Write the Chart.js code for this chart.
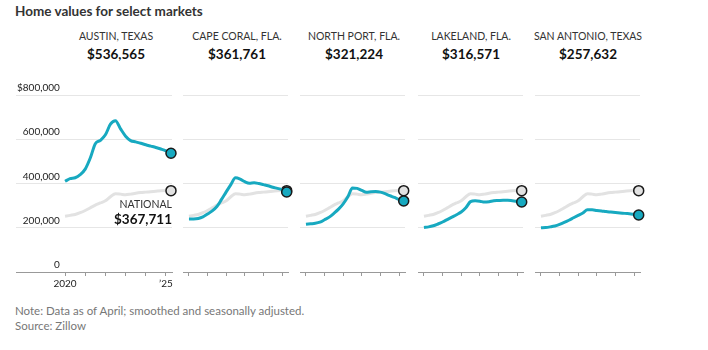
<!DOCTYPE html>
<html>
<head>
<meta charset="utf-8">
<script src="https://cdn.jsdelivr.net/npm/chart.js@4.4.0/dist/chart.umd.min.js"></script>
<style>
  body { margin: 0; width: 708px; height: 350px; background: #fff; position: relative; overflow: hidden;
         font-family: Lato, 'Noto Sans', sans-serif; color: #222; }
  .txt { position: absolute; white-space: nowrap; line-height: 1; }
  .title { left: 15px; top: 5px; font-size: 13.5px; font-weight: bold; color: #333; }
  .city { font-family: 'Liberation Sans Narrow', Lato, sans-serif; font-size: 10.5px; color: #333; transform: translate(-50%, -50%); }
  .value { font-size: 13.5px; font-weight: bold; color: #111; transform: translate(-50%, -50%); }
  .natl { font-family: 'Liberation Sans Narrow', Lato, sans-serif; font-size: 10.5px; color: #333; transform: translate(-100%, -50%); }
  .natlv { font-size: 13.5px; font-weight: bold; color: #111; transform: translate(-100%, -50%); }
  .note { left: 15px; font-size: 11.5px; color: #777; transform: translateY(-50%); }
  canvas { position: absolute; }
</style>
</head>
<body>
<div class="txt title">Home values for select markets</div>
<div id="wrap"></div>
<div class="txt note" style="top:311px">Note: Data as of April; smoothed and seasonally adjusted.</div>
<div class="txt note" style="top:326px">Source: Zillow</div>
<script>
const QUARTERS = ['2020-01', '2020-04', '2020-07', '2020-10', '2021-01', '2021-04', '2021-07', '2021-10',
  '2022-01', '2022-04', '2022-07', '2022-10', '2023-01', '2023-04', '2023-07', '2023-10',
  '2024-01', '2024-04', '2024-07', '2024-10', '2025-01', '2025-04'];

const MARKETS = ['AUSTIN, TEXAS', 'CAPE CORAL, FLA.', 'NORTH PORT, FLA.', 'LAKELAND, FLA.', 'SAN ANTONIO, TEXAS'];
const LATEST = ['$536,565', '$361,761', '$321,224', '$316,571', '$257,632'];
const NATIONAL_NAME = 'NATIONAL';
const NATIONAL_LATEST = '$367,711';

const austin = [410000, 422000, 426000, 440000, 465000, 515000, 580000, 595000, 620000, 668000, 684000, 647000,
  614000, 594000, 588000, 582000, 575000, 569000, 563000, 556000, 548000, 536565];
const capeCoral = [240000, 240000, 242000, 249000, 262000, 276000, 296000, 328000, 362000, 395000, 426000, 420000,
  408000, 401000, 403000, 400000, 395000, 390000, 383000, 378000, 372000, 361761];
const northPort = [216000, 218000, 220000, 225000, 236000, 248000, 265000, 284000, 308000, 340000, 380000, 378000,
  369000, 361000, 363000, 364000, 361000, 354000, 345000, 337000, 328000, 321224];
const lakeland = [201000, 204000, 209000, 217000, 226000, 237000, 248000, 259000, 271000, 290000, 318000, 322000,
  320000, 316000, 318000, 322000, 323000, 324000, 324000, 322000, 320000, 316571];
const sanAntonio = [200000, 201000, 204000, 208000, 215000, 224000, 234000, 245000, 256000, 267000, 281000, 281000,
  278000, 276000, 273000, 271000, 269000, 267000, 265000, 263000, 261000, 257632];
const national = [252000, 256000, 260000, 268000, 278000, 290000, 302000, 312000, 322000, 340000, 354000, 352000,
  349000, 352000, 356000, 359000, 361000, 363000, 365000, 367000, 368000, 367711];

const SERIES = [austin, capeCoral, northPort, lakeland, sanAntonio];
const YEAR_TICKS = [2020, 2021, 2022, 2023, 2024, 2025];
const YEAR_LABELS = ['2020', '', '', '', '', '\u201925'];
const Y_TICKS = [0, 200000, 400000, 600000, 800000];
const Y_LABELS = ['0', '200,000', '400,000', '600,000', '$800,000'];

const TEAL = '#17a9c0';
const GREY = '#e2e2e2';

// panel geometry (chart area left/right in page pixels)
const panels = [
  { left: 16, right: 172, min: 2017.57, max: 2025.3, center: 116 },
  { left: 183, right: 288, min: 2019.68, max: 2025.32, center: 237 },
  { left: 300, right: 405, min: 2019.68, max: 2025.32, center: 354 },
  { left: 418, right: 523, min: 2019.68, max: 2025.32, center: 471 },
  { left: 535, right: 640, min: 2019.68, max: 2025.32, center: 588 }
];

const toYear = q => {
  const [y, m] = q.split('-').map(Number);
  return y + (m - 1) / 12;
};

const wrap = document.getElementById('wrap');

function addText(cls, text, x, y) {
  const d = document.createElement('div');
  d.className = 'txt ' + cls;
  d.textContent = text;
  d.style.left = x + 'px';
  d.style.top = y + 'px';
  wrap.appendChild(d);
}

function lineDataset(values, color, dotFill, order) {
  const last = values.length - 1;
  return {
    data: values.map((v, i) => ({ x: toYear(QUARTERS[i]), y: v })),
    borderColor: color,
    borderWidth: 3,
    cubicInterpolationMode: 'monotone',
    pointRadius: ctx => ctx.dataIndex === last ? 5 : 0,
    pointBackgroundColor: dotFill,
    pointBorderColor: '#1a1a1a',
    pointBorderWidth: 1.5,
    clip: false,
    order
  };
}

panels.forEach((p, idx) => {
  const first = idx === 0;
  addText('city', MARKETS[idx], p.center, 36);
  addText('value', LATEST[idx], p.center, 55);

  const canvas = document.createElement('canvas');
  const padX = 10;
  canvas.width = p.right - p.left + padX * 2;
  canvas.height = 212;
  canvas.style.left = (p.left - padX) + 'px';
  canvas.style.top = '80px';
  wrap.appendChild(canvas);

  new Chart(canvas.getContext('2d'), {
    type: 'line',
    data: {
      datasets: [
        lineDataset(SERIES[idx], TEAL, TEAL, 1),
        lineDataset(national, GREY, GREY, 2)
      ]
    },
    options: {
      responsive: false,
      animation: false,
      layout: { padding: { left: padX, right: padX, top: 15, bottom: 0 } },
      plugins: { legend: { display: false }, tooltip: { enabled: false } },
      scales: {
        x: {
          type: 'linear',
          min: p.min,
          max: p.max,
          afterBuildTicks: scale => { scale.ticks = YEAR_TICKS.map(v => ({ value: v })); },
          afterFit: scale => { scale.height = 20; },
          grid: { drawOnChartArea: false, drawTicks: true, tickLength: 4, color: '#999' },
          border: { display: true, color: '#999', width: 1 },
          ticks: {
            display: first,
            autoSkip: false,
            maxRotation: 0,
            padding: 2,
            color: '#222',
            font: { family: 'Lato', size: 10 },
            callback: value => YEAR_LABELS[YEAR_TICKS.indexOf(value)] ?? ''
          }
        },
        y: {
          min: 0,
          max: 800000,
          afterBuildTicks: scale => { scale.ticks = Y_TICKS.map(v => ({ value: v })); },
          afterFit: scale => { scale.width = 0; },
          grid: { color: '#e6e6e6', drawTicks: false },
          border: { display: false },
          ticks: {
            display: first,
            mirror: true,
            crossAlign: 'far',
            padding: 1,
            labelOffset: -7,
            color: '#222',
            font: { family: 'Lato', size: 10 },
            callback: value => Y_LABELS[Y_TICKS.indexOf(value)]
          }
        }
      }
    }
  });
});

addText('natl', NATIONAL_NAME, 172, 204);
addText('natlv', NATIONAL_LATEST, 172, 220);
</script>
</body>
</html>
